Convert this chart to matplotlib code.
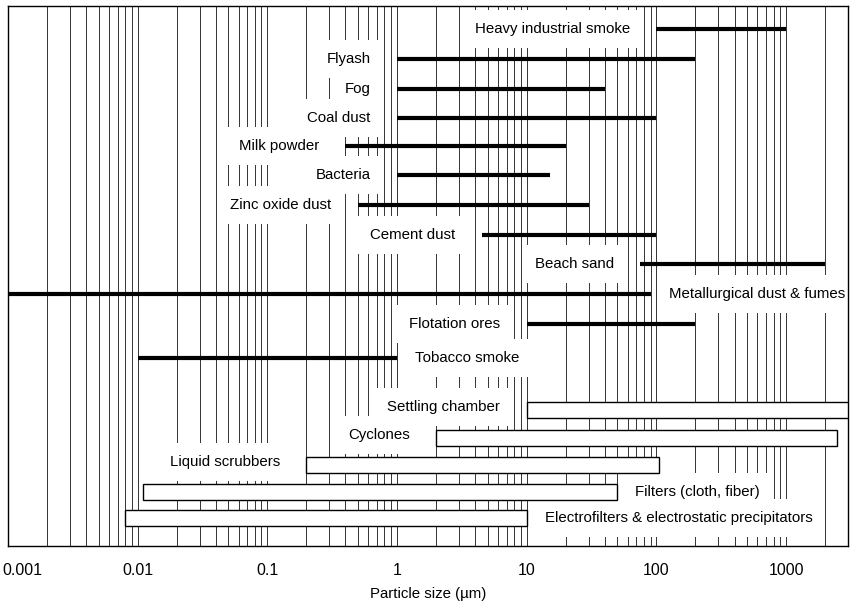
import matplotlib
matplotlib.use("Agg")
import matplotlib.pyplot as plt
import matplotlib.transforms as mtransforms
import numpy as np

plt.rcParams['font.family'] = ['Liberation Sans', 'DejaVu Sans']

# Particle size ranges (µm)
particles = ["Heavy industrial smoke", "Flyash", "Fog", "Coal dust", "Milk powder",
             "Bacteria", "Zinc oxide dust", "Cement dust", "Beach sand",
             "Metallurgical dust & fumes", "Flotation ores", "Tobacco smoke"]
p_low = [100, 1, 1, 1, 0.4, 1, 0.5, 4.5, 75, 0.001, 10, 0.01]
p_high = [1000, 200, 40, 100, 20, 15, 30, 100, 2000, 90, 200, 1]
p_row = [23, 53, 83, 112, 140, 169, 199, 229, 258, 288, 318, 352]
p_label_side = ["left"] * 9 + ["right", "left", "right"]

# Collection equipment ranges (µm)
equipment = ["Settling chamber", "Cyclones", "Liquid scrubbers",
             "Filters (cloth, fiber)", "Electrofilters & electrostatic precipitators"]
e_low = [10, 2, 0.2, 0.011, 0.008]
e_high = [4000, 2450, 105, 50, 10]
e_row = [404, 432, 459, 486, 512]
e_label_side = ["left", "left", "left", "right", "right"]

tick_vals = [0.001, 0.01, 0.1, 1, 10, 100, 1000]
tick_labels = ["0.001", "0.01", "0.1", "1", "10", "100", "1000"]

fig = plt.figure(figsize=(8.51, 6.06), dpi=100)
ax = fig.add_axes([8 / 851, 60 / 606, 840 / 851, 540 / 606])
ax.set_xscale("log")
ax.set_xlim(0.001, 3000)
ax.set_ylim(540, 0)

# grid lines at every 1..9 x 10^k
for k in range(-3, 4):
    for m in range(1, 10):
        v = m * 10.0 ** k
        if 0.001 < v < 3000:
            ax.axvline(v, color="#333333", lw=0.7, zorder=1)

bbox = dict(boxstyle="square,pad=0.8", facecolor="white", edgecolor="none")
fs = 10.8

for name, lo, hi, y, side in zip(particles, p_low, p_high, p_row, p_label_side):
    ax.plot([lo, hi], [y, y], color="black", lw=3.0, solid_capstyle="butt", zorder=4)
    if side == "left":
        ax.annotate(name, xy=(lo, y), xytext=(-19, 0), textcoords="offset points",
                    ha="right", va="center", fontsize=fs, bbox=bbox, zorder=3)
    else:
        ax.annotate(name, xy=(hi, y), xytext=(13, 0), textcoords="offset points",
                    ha="left", va="center", fontsize=fs, bbox=bbox, zorder=3)

for name, lo, hi, y, side in zip(equipment, e_low, e_high, e_row, e_label_side):
    ax.barh(y, hi - lo, left=lo, height=16, color="white", edgecolor="black",
            linewidth=1.0, zorder=4)
    if side == "left":
        ax.annotate(name, xy=(lo, y - 3), xytext=(-19, 0), textcoords="offset points",
                    ha="right", va="center", fontsize=fs, bbox=bbox, zorder=3)
    else:
        ax.annotate(name, xy=(hi, y), xytext=(13, 0), textcoords="offset points",
                    ha="left", va="center", fontsize=fs, bbox=bbox, zorder=3)

ax.set_yticks([])
ax.set_xticks(tick_vals)
ax.set_xticklabels(tick_labels, fontsize=11.5)
ax.xaxis.set_minor_locator(matplotlib.ticker.NullLocator())
ax.tick_params(axis="x", length=0, pad=12)
first = ax.get_xticklabels()[0]
first.set_horizontalalignment("left")
first.set_transform(first.get_transform() +
                    mtransforms.ScaledTranslation(-6 / 100, 0, fig.dpi_scale_trans))
ax.set_xlabel("Particle size (\u00b5m)", fontsize=10.8, labelpad=7)
for s in ax.spines.values():
    s.set_linewidth(1.0)
    s.set_zorder(6)

fig.savefig("out.png", dpi=100)
